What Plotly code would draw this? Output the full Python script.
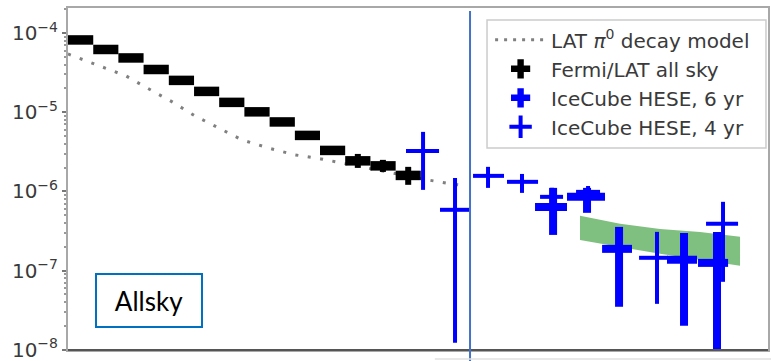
import plotly.graph_objects as go

# ---------------- data ----------------
# Fermi/LAT all-sky spectrum (bin edges in GeV, flux)
fermi_e_lo = [1.0, 1.78, 3.16, 5.62, 10.0, 17.8, 31.6, 56.2, 100, 178, 316, 562, 1000, 1780]
fermi_e_hi = [1.78, 3.16, 5.62, 10.0, 17.8, 31.6, 56.2, 100, 178, 316, 562, 1000, 1780, 3160]
fermi_e = [1.33, 2.37, 4.22, 7.50, 13.3, 23.7, 42.2, 75.0, 133, 237, 422, 750, 1330, 2370]
fermi_flux = [8.17e-5, 6.19e-5, 4.84e-5, 3.46e-5, 2.52e-5, 1.83e-5, 1.33e-5,
              1.01e-5, 7.53e-6, 5.09e-6, 3.29e-6, 2.43e-6, 2.10e-6, 1.59e-6]
fermi_flux_hi = [8.4e-5, 6.35e-5, 4.97e-5, 3.55e-5, 2.59e-5, 1.88e-5, 1.37e-5,
                 1.04e-5, 7.75e-6, 5.24e-6, 3.39e-6, 2.97e-6, 2.50e-6, 2.04e-6]
fermi_flux_lo = [7.95e-5, 6.03e-5, 4.71e-5, 3.37e-5, 2.45e-5, 1.78e-5, 1.29e-5,
                 0.98e-5, 7.31e-6, 4.94e-6, 3.19e-6, 1.98e-6, 1.76e-6, 1.21e-6]

# LAT pi0 decay model
model_e = [1.0, 2.08, 3.76, 6.36, 10.8, 18.2, 30.8, 53.2, 96.4, 178.6, 323.6,
           586, 1111, 1967, 3643, 6449, 9085]
model_flux = [5.43e-5, 3.84e-5, 2.87e-5, 1.96e-5, 1.35e-5, 8.97e-6, 6.33e-6,
              4.47e-6, 3.54e-6, 2.89e-6, 2.57e-6, 2.22e-6, 1.87e-6, 1.62e-6,
              1.40e-6, 1.24e-6, 1.17e-6]

# IceCube HESE, 6 yr
hese6_e = [64860, 140900, 292700, 1.291e6, 2.743e6]
hese6_e_lo = [42950, 89170, 198700, 8.755e5, 1.778e6]
hese6_e_hi = [89170, 212400, 393600, 1.738e6, 3.532e6]
hese6_flux = [6.37e-7, 8.53e-7, 1.88e-7, 1.37e-7, 1.25e-7]
hese6_flux_lo = [2.82e-7, 5.36e-7, 3.49e-8, 2.01e-8, 1.0e-9]
hese6_flux_hi = [1.107e-6, 1.107e-6, 3.56e-7, 2.99e-7, 3.08e-7]

# IceCube HESE, 4 yr
hese4_e = [3327, 6907, 14680, 31910, 63360, 144200, 696600, 3.147e6]
hese4_e_lo = [2254, 4900, 10420, 22650, 48170, 109600, 462300, 2.135e6]
hese4_e_hi = [4795, 9730, 21150, 46000, 81450, 189600, 895800, 4.436e6]
hese4_flux = [3.24e-6, 5.85e-7, 1.57e-6, 1.32e-6, 8.53e-7, 9.86e-7, 1.45e-7, 3.89e-7]
hese4_flux_lo = [1.045e-6, 1.23e-8, 1.107e-6, 9.57e-7, 6.76e-7, 6.76e-7, 3.80e-8, 7.21e-8]
hese4_flux_hi = [5.64e-6, 1.48e-6, 2.04e-6, 1.66e-6, 1.11e-6, 1.17e-6, 3.08e-7, 7.38e-7]

# through-going muon band (green)
band_e = [1.20e5, 2.995e5, 7.465e5, 1.862e6, 4.64e6]
band_upper = [4.91e-7, 3.89e-7, 3.36e-7, 3.08e-7, 2.67e-7]
band_lower = [2.44e-7, 1.99e-7, 1.63e-7, 1.37e-7, 1.15e-7]

divider_e = 9.73e3
y_tick_vals = [1e-8, 1e-7, 1e-6, 1e-5, 1e-4]
y_tick_text = ["10<sup>−8</sup>", "10<sup>−7</sup>", "10<sup>−6</sup>",
               "10<sup>−5</sup>", "10<sup>−4</sup>"]
legend_names = ["LAT <i>π</i><sup>0</sup> decay model", "Fermi/LAT all sky",
                "IceCube HESE, 6 yr", "IceCube HESE, 4 yr"]

BLUE = "#0000ff"

def minus(v, lo):
    return [a - b for a, b in zip(v, lo)]

def plus(v, hi):
    return [b - a for a, b in zip(v, hi)]

fig = go.Figure()

# green band
fig.add_trace(go.Scatter(
    x=band_e + band_e[::-1], y=band_upper + band_lower[::-1],
    fill="toself", fillcolor="rgba(0,128,0,0.5)", line=dict(width=0),
    mode="lines", showlegend=False, hoverinfo="skip"))

# model line
fig.add_trace(go.Scatter(
    x=model_e, y=model_flux, mode="lines",
    line=dict(color="#808080", width=3, dash="3px,9.5px"),
    showlegend=False))

# Fermi boxes
fig.add_trace(go.Scatter(
    x=fermi_e, y=fermi_flux, mode="markers",
    marker=dict(size=1, opacity=0),
    error_x=dict(type="data", symmetric=False,
                 array=plus(fermi_e, fermi_e_hi), arrayminus=minus(fermi_e, fermi_e_lo),
                 color="black", thickness=9.5, width=0),
    error_y=dict(type="data", symmetric=False,
                 array=plus(fermi_flux, fermi_flux_hi), arrayminus=minus(fermi_flux, fermi_flux_lo),
                 color="black", thickness=6, width=0),
    showlegend=False))

# HESE 4 yr (thin)
fig.add_trace(go.Scatter(
    x=hese4_e, y=hese4_flux, mode="markers",
    marker=dict(size=1, opacity=0),
    error_x=dict(type="data", symmetric=False,
                 array=plus(hese4_e, hese4_e_hi), arrayminus=minus(hese4_e, hese4_e_lo),
                 color=BLUE, thickness=4, width=0),
    error_y=dict(type="data", symmetric=False,
                 array=plus(hese4_flux, hese4_flux_hi), arrayminus=minus(hese4_flux, hese4_flux_lo),
                 color=BLUE, thickness=4, width=0),
    showlegend=False))

# HESE 6 yr (thick)
fig.add_trace(go.Scatter(
    x=hese6_e, y=hese6_flux, mode="markers",
    marker=dict(size=1, opacity=0),
    error_x=dict(type="data", symmetric=False,
                 array=plus(hese6_e, hese6_e_hi), arrayminus=minus(hese6_e, hese6_e_lo),
                 color=BLUE, thickness=8, width=0),
    error_y=dict(type="data", symmetric=False,
                 array=plus(hese6_flux, hese6_flux_hi), arrayminus=minus(hese6_flux, hese6_flux_lo),
                 color=BLUE, thickness=8, width=0),
    showlegend=False))

# legend entries
fig.add_trace(go.Scatter(x=[None], y=[None], mode="lines",
                         line=dict(color="#808080", width=3, dash="3px,6px"),
                         name=legend_names[0]))
fig.add_trace(go.Scatter(x=[None], y=[None], mode="markers",
                         marker=dict(symbol="cross", size=17, color="black"),
                         name=legend_names[1]))
fig.add_trace(go.Scatter(x=[None], y=[None], mode="markers",
                         marker=dict(symbol="cross", size=17, color=BLUE),
                         name=legend_names[2]))
fig.add_trace(go.Scatter(x=[None], y=[None], mode="markers",
                         marker=dict(symbol="cross-thin", size=16, color=BLUE,
                                     line=dict(width=4, color=BLUE)),
                         name=legend_names[3]))

fig.update_layout(
    width=771, height=361,
    margin=dict(l=68, r=3, t=8, b=11),
    paper_bgcolor="white", plot_bgcolor="white",
    font=dict(family="DejaVu Sans", color="#3a3a3a"),
    showlegend=True,
    legend=dict(x=0.603, y=0.964, xanchor="left", yanchor="top",
                bgcolor="rgba(0,0,0,0)", borderwidth=0,
                font=dict(size=20, family="DejaVu Sans", color="#3a3a3a"),
                itemwidth=51, tracegroupgap=0),
    xaxis=dict(type="log", range=[0, 6.944], showgrid=False, zeroline=False,
               showticklabels=False, ticks="", showline=True, mirror=True,
               linecolor="#a8a8a8", linewidth=1.5, automargin=False),
    yaxis=dict(type="log", range=[-8.003, -3.6845], showgrid=False, zeroline=False,
               tickmode="array", tickvals=y_tick_vals, ticktext=y_tick_text,
               ticklabeloverflow="allow",
               ticks="outside", ticklen=4, tickcolor="#777", tickwidth=1.5,
               tickfont=dict(size=20, family="DejaVu Sans", color="#3a3a3a"),
               minor=dict(ticks="outside", ticklen=2.5, tickcolor="#999", dtick="D1"),
               showline=True, mirror=True, linecolor="#a8a8a8", linewidth=2,
               automargin=False),
    shapes=[
        dict(type="line", xref="paper", yref="paper", x0=0, x1=1, y0=0, y1=0,
             line=dict(color="#555555", width=2)),
        dict(type="line", xref="x", yref="paper", x0=divider_e, x1=divider_e,
             y0=-0.04, y1=0.991, line=dict(color="#4472C4", width=2)),
        dict(type="line", xref="paper", yref="paper", x0=0.524, x1=1.01,
             y0=-0.026, y1=-0.026, line=dict(color="#e0e0e0", width=1.5)),
        # legend frame
        dict(type="rect", xref="paper", yref="paper", x0=0.5986, x1=0.9971,
             y0=0.5906, y1=0.9649, layer="above",
             fillcolor="rgba(255,255,255,0.85)", line=dict(color="#cccccc", width=1.5)),
    ],
    annotations=[
        dict(xref="paper", yref="paper", x=0.1164, y=0.1447,
             xanchor="center", yanchor="middle", showarrow=False,
             text="Allsky", font=dict(family="Lato", size=26, color="black"),
             bordercolor="#0070C0", borderwidth=2, borderpad=0,
             width=104, height=51, bgcolor="white"),
    ],
)

fig.write_html("out.html", config={"displayModeBar": False},
               post_script="document.body.style.margin='0';document.body.style.overflow='hidden';")
